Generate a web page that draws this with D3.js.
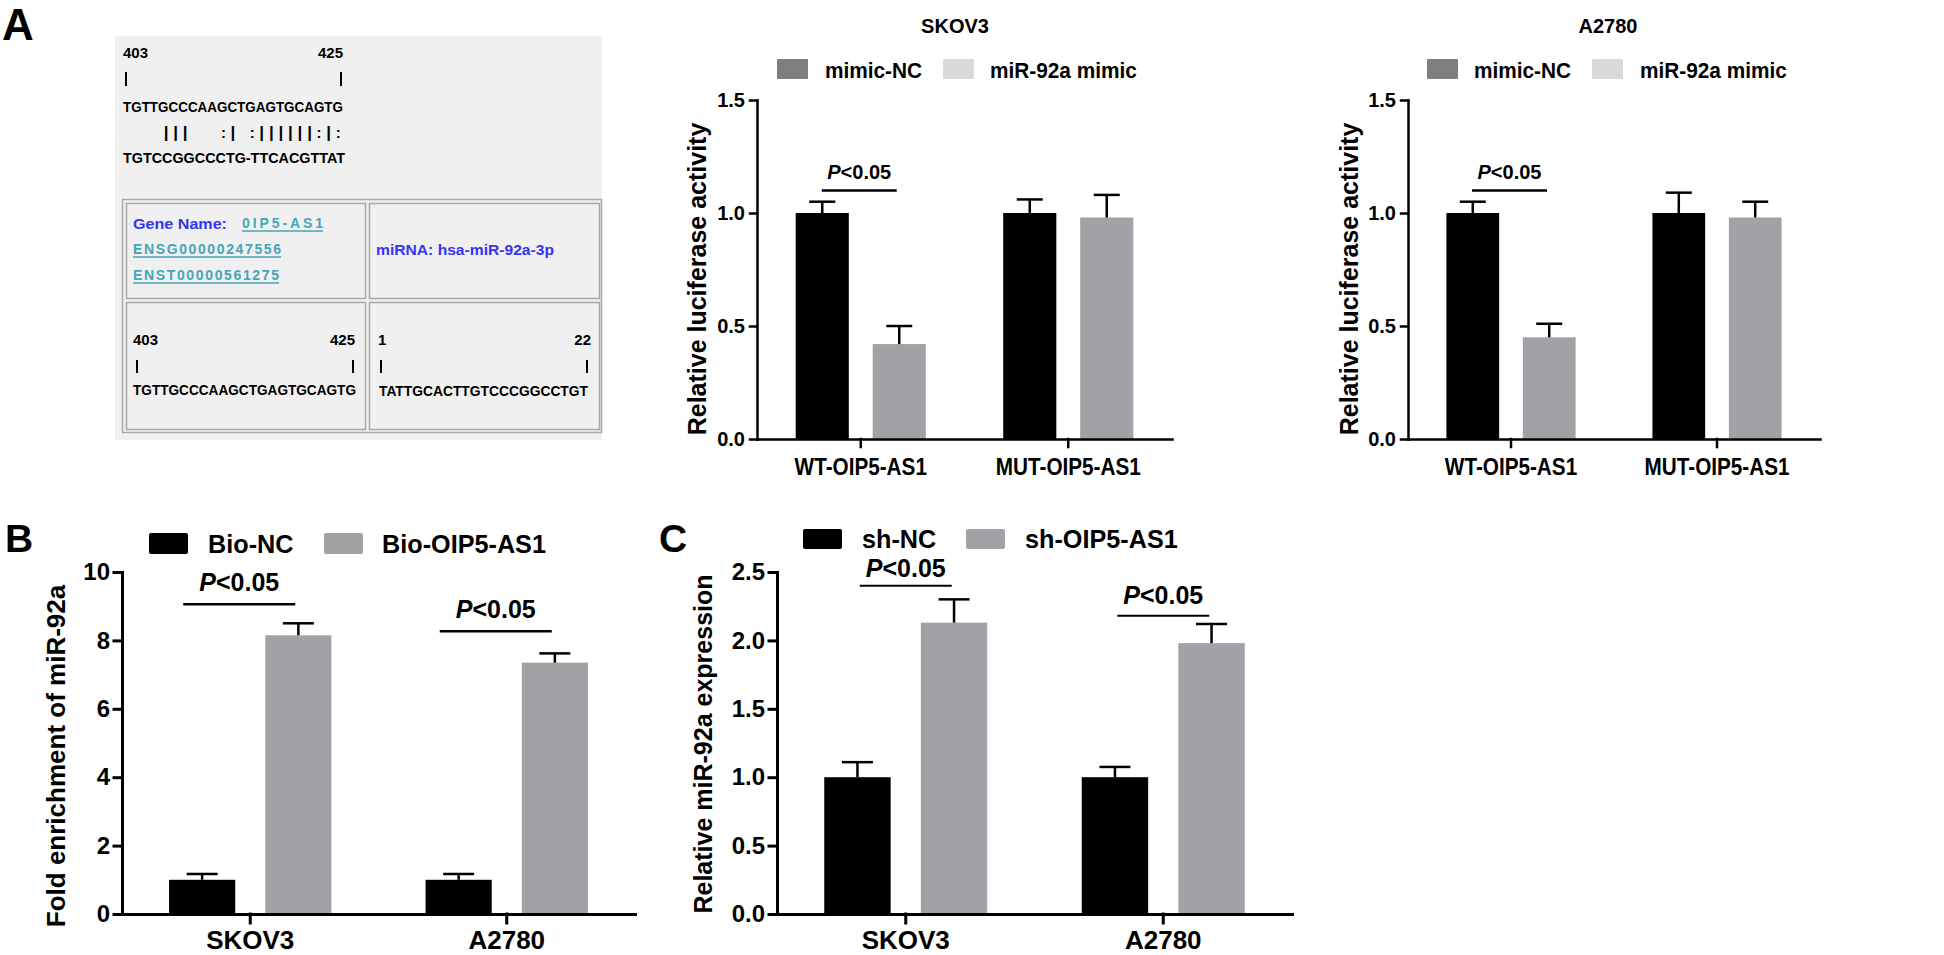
<!DOCTYPE html>
<html><head><meta charset="utf-8">
<script src="https://cdn.jsdelivr.net/npm/d3@7"></script>
<style>
body{margin:0;background:#fff}
text{font-family:"Liberation Sans",Arial,Helvetica,sans-serif;font-weight:bold;fill:#000}
</style>
</head><body>
<svg id="fig" width="1944" height="955"></svg>
<script>
// ---------------- DATA ----------------
// Panel A (left): predicted binding site
const siteStart = 403, siteEnd = 425, mirStart = 1, mirEnd = 22;
const seqTop = "TGTTGCCCAAGCTGAGTGCAGTG";
const seqMatch = "    |||   :| :||||||:|:";
const seqBottom = "TGTCCGGCCCTG-TTCACGTTAT";
const mirSeq = "TATTGCACTTGTCCCGGCCTGT";
const geneName = "0IP5-AS1", geneId = "ENSG00000247556", transcriptId = "ENST00000561275";
const mirName = "hsa-miR-92a-3p";

// Panel A luciferase
const lucCategories = ["WT-OIP5-AS1", "MUT-OIP5-AS1"];
const lucSeries = ["mimic-NC", "miR-92a mimic"];
const lucTicks = [0, 0.5, 1.0, 1.5];
const skov3MimicNC = [1.00, 1.00];
const skov3MimicNCErr = [0.05, 0.06];
const skov3Mimic = [0.42, 0.98];
const skov3MimicErr = [0.08, 0.10];
const a2780MimicNC = [1.00, 1.00];
const a2780MimicNCErr = [0.05, 0.09];
const a2780Mimic = [0.45, 0.98];
const a2780MimicErr = [0.06, 0.07];
const lucSigCats = ["WT-OIP5-AS1"];
const skov3LucSigLevels = [1.10];
const a2780LucSigLevels = [1.10];

// Panel B
const cellLines = ["SKOV3", "A2780"];
const bioSeries = ["Bio-NC", "Bio-OIP5-AS1"];
const bioTicks = [0, 2, 4, 6, 8, 10];
const bioNC = [1.0, 1.0];
const bioNCErr = [0.17, 0.17];
const bioOIP = [8.15, 7.35];
const bioOIPErr = [0.35, 0.27];
const bioSigLevels = [9.06, 8.27];

// Panel C
const shSeries = ["sh-NC", "sh-OIP5-AS1"];
const shTicks = [0, 0.5, 1.0, 1.5, 2.0, 2.5];
const shNC = [1.0, 1.0];
const shNCErr = [0.11, 0.075];
const shOIP = [2.13, 1.98];
const shOIPErr = [0.17, 0.14];
const shSigLevels = [2.40, 2.18];
const sigLabel = "P<0.05";

// ---------------- HELPERS ----------------
const svg = d3.select("#fig");

function condense(sel, k) {
  sel.each(function () {
    const w = this.getComputedTextLength();
    d3.select(this).attr("textLength", w * k).attr("lengthAdjust", "spacingAndGlyphs");
  });
}
function fitWidth(sel, w, adj) {
  sel.attr("textLength", w).attr("lengthAdjust", adj || "spacingAndGlyphs");
}
function pText(g, x, y, size, label) {
  const t = g.append("text").attr("x", x).attr("y", y).attr("text-anchor", "middle").attr("font-size", size);
  t.append("tspan").attr("font-style", "italic").text(label.slice(0, 1));
  t.append("tspan").text(label.slice(1));
  return t;
}

function barChart(o) {
  const g = svg.append("g");
  const x0 = d3.scaleBand().domain(o.categories).range([o.left, o.right]).padding(0);
  const half = x0.step() * o.groupFrac / 2;
  const x1 = d3.scaleBand().domain(o.series).range([-half, half]).paddingInner(o.innerPad);
  const y = d3.scaleLinear().domain([0, o.yMax]).range([o.bottom, o.top]);
  const cat = c => x0(c) + x0.bandwidth() / 2;

  o.series.forEach((s, si) => {
    const rows = o.categories.map((c, i) => ({ c, v: o.values[si][i], e: o.errors[si][i] }));
    const cx = d => cat(d.c) + x1(s) + x1.bandwidth() / 2;
    g.selectAll(null).data(rows).join("rect")
      .attr("x", d => cat(d.c) + x1(s)).attr("width", x1.bandwidth())
      .attr("y", d => y(d.v)).attr("height", d => y(0) - y(d.v))
      .attr("fill", o.barColors[si]);
    g.selectAll(null).data(rows).join("line")
      .attr("x1", cx).attr("x2", cx).attr("y1", d => y(d.v)).attr("y2", d => y(d.v + d.e))
      .attr("stroke", "#000").attr("stroke-width", o.errW);
    g.selectAll(null).data(rows).join("line")
      .attr("x1", d => cx(d) - o.capW / 2).attr("x2", d => cx(d) + o.capW / 2)
      .attr("y1", d => y(d.v + d.e)).attr("y2", d => y(d.v + d.e))
      .attr("stroke", "#000").attr("stroke-width", o.errW);
  });

  // axes
  const yAx = g.append("g").attr("transform", `translate(${o.left},0)`)
    .call(d3.axisLeft(y).tickValues(o.ticks).tickFormat(o.fmt).tickSize(o.yTick).tickSizeOuter(0).tickPadding(o.yPad));
  yAx.selectAll("path,line").attr("stroke", "#000").attr("stroke-width", o.axisW).attr("stroke-linecap", "square");
  yAx.selectAll("text").attr("font-size", o.tickFont).attr("fill", "#000");

  const xAx = g.append("g").attr("transform", `translate(0,${o.bottom})`)
    .call(d3.axisBottom(x0).tickSize(o.xTick).tickSizeOuter(0));
  xAx.selectAll("path,line").attr("stroke", "#000").attr("stroke-width", o.axisW).attr("stroke-linecap", "square");
  const xt = xAx.selectAll("text").attr("y", o.xLabelDy).attr("dy", null).attr("font-size", o.xFont).attr("fill", "#000");
  if (o.xK !== 1) condense(xt, o.xK);

  // y label
  g.append("text").attr("transform", `translate(${o.yLabelX},${o.yLabelY}) rotate(-90)`)
    .attr("text-anchor", "middle").attr("dy", "0.36em").attr("font-size", o.yLabelFont).text(o.yLabel);

  // title
  if (o.title) g.append("text").attr("x", o.titleX).attr("y", o.titleY).attr("text-anchor", "middle")
    .attr("font-size", o.titleFont).text(o.title);

  // legend
  o.series.forEach((s, si) => {
    g.append("rect").attr("x", o.legSwX[si]).attr("y", o.legY).attr("width", o.legW).attr("height", o.legH)
      .attr("rx", o.legRx).attr("fill", o.legendColors[si]);
    const t = g.append("text").attr("x", o.legTxX[si]).attr("y", o.legTxY).attr("font-size", o.legFont).text(s);
    if (o.legK !== 1) condense(t, o.legK);
  });

  // significance
  o.sigCats.forEach((c, i) => {
    const ly = y(o.sigLevels[i]);
    const xa = cat(c) + o.sigDx[0], xb = cat(c) + o.sigDx[1];
    g.append("line").attr("x1", xa).attr("x2", xb).attr("y1", ly).attr("y2", ly)
      .attr("stroke", "#000").attr("stroke-width", o.sigW);
    pText(g, (xa + xb) / 2, ly - o.sigGap[i], o.sigFont, o.sigLabel);
  });
}

// ---------------- PANEL LETTERS ----------------
svg.append("text").attr("x", 2).attr("y", 40).attr("font-size", 44).text("A");
svg.append("text").attr("x", 5).attr("y", 552).attr("font-size", 39).text("B");
svg.append("text").attr("x", 659).attr("y", 552).attr("font-size", 39).text("C");

// ---------------- PANEL A: binding site image ----------------
(function () {
  const g = svg.append("g");
  g.append("rect").attr("x", 115).attr("y", 36).attr("width", 487).attr("height", 404).attr("fill", "#f0f0f0");
  const seqW = 220, x0 = 123, cw = seqW / seqTop.length;
  g.append("text").attr("x", x0).attr("y", 58).attr("font-size", 15).text(siteStart);
  g.append("text").attr("x", 343).attr("y", 58).attr("text-anchor", "end").attr("font-size", 15).text(siteEnd);
  [126, 341].forEach(x => g.append("line").attr("x1", x).attr("x2", x).attr("y1", 72).attr("y2", 86).attr("stroke", "#000").attr("stroke-width", 2));
  fitWidth(g.append("text").attr("x", x0).attr("y", 112).attr("font-size", 15).text(seqTop), seqW);
  seqMatch.split("").forEach((ch, i) => {
    if (ch === " ") return;
    g.append("text").attr("x", x0 + cw * (i + 0.5)).attr("y", 138).attr("text-anchor", "middle")
      .attr("font-size", ch === "|" ? 17 : 15).text(ch);
  });
  fitWidth(g.append("text").attr("x", x0).attr("y", 163).attr("font-size", 15).text(seqBottom), 222);

  // table
  g.append("rect").attr("x", 122.5).attr("y", 199.5).attr("width", 479).attr("height", 233).attr("fill", "none")
    .attr("stroke", "#a8a8a8").attr("stroke-width", 1.5);
  const cells = [[126, 203, 239, 95], [369, 203, 230, 95], [126, 302, 239, 127], [369, 302, 230, 127]];
  cells.forEach(c => g.append("rect").attr("x", c[0] + 0.5).attr("y", c[1] + 0.5).attr("width", c[2]).attr("height", c[3])
    .attr("fill", "#f0f0f0").attr("stroke", "#a8a8a8").attr("stroke-width", 1.5));

  const blue = "#3434f2", teal = "#45a6b6";
  fitWidth(g.append("text").attr("x", 133).attr("y", 229).attr("font-size", 15).style("fill", blue).text("Gene  Name:"), 94);
  const links = [[geneName, 242, 228, 81], [geneId, 133, 254, 148], [transcriptId, 133, 280, 146]];
  links.forEach(l => {
    fitWidth(g.append("text").attr("x", l[1]).attr("y", l[2]).attr("font-size", 14).style("fill", teal).text(l[0]), l[3], "spacing");
    g.append("line").attr("x1", l[1]).attr("x2", l[1] + l[3]).attr("y1", l[2] + 3).attr("y2", l[2] + 3)
      .attr("stroke", teal).attr("stroke-width", 1.5);
  });
  fitWidth(g.append("text").attr("x", 376).attr("y", 255).attr("font-size", 15).style("fill", blue).text("miRNA:  " + mirName), 178);

  // bottom row
  g.append("text").attr("x", 133).attr("y", 345).attr("font-size", 15).text(siteStart);
  g.append("text").attr("x", 355).attr("y", 345).attr("text-anchor", "end").attr("font-size", 15).text(siteEnd);
  g.append("text").attr("x", 378).attr("y", 345).attr("font-size", 15).text(mirStart);
  g.append("text").attr("x", 591).attr("y", 345).attr("text-anchor", "end").attr("font-size", 15).text(mirEnd);
  [137, 353, 381, 587].forEach(x => g.append("line").attr("x1", x).attr("x2", x).attr("y1", 360).attr("y2", 373).attr("stroke", "#000").attr("stroke-width", 2));
  fitWidth(g.append("text").attr("x", 133).attr("y", 395).attr("font-size", 15).text(seqTop), 223);
  fitWidth(g.append("text").attr("x", 379).attr("y", 396).attr("font-size", 15).text(mirSeq), 209);
})();

// ---------------- CHARTS ----------------
const lucStyle = {
  top: 100, bottom: 439, yMax: 1.5, fmt: d3.format(".1f"), groupFrac: 0.627, innerPad: 0.31,
  barColors: ["#000000", "#a2a1a6"], legendColors: ["#7f7f7f", "#d9d9d9"],
  errW: 2.5, capW: 26, axisW: 2.5, yTick: 7, yPad: 5, xTick: 8, tickFont: 20,
  xLabelDy: 36, xFont: 23, xK: 0.9, yLabelFont: 25, yLabelY: 279, titleY: 33, titleFont: 20,
  legY: 59, legW: 31, legH: 20, legRx: 1, legTxY: 78, legFont: 22, legK: 0.945,
  sigDx: [-39, 36], sigW: 2.5, sigGap: [11], sigFont: 20, sigLabel: sigLabel,
  categories: lucCategories, series: lucSeries, ticks: lucTicks, sigCats: lucSigCats,
  yLabel: "Relative luciferase activity"
};
barChart(Object.assign({}, lucStyle, {
  left: 757, right: 1172, values: [skov3MimicNC, skov3Mimic], errors: [skov3MimicNCErr, skov3MimicErr],
  sigLevels: skov3LucSigLevels, title: "SKOV3", titleX: 955, yLabelX: 697,
  legSwX: [777, 943], legTxX: [825, 990]
}));
barChart(Object.assign({}, lucStyle, {
  left: 1408, right: 1820, values: [a2780MimicNC, a2780Mimic], errors: [a2780MimicNCErr, a2780MimicErr],
  sigLevels: a2780LucSigLevels, title: "A2780", titleX: 1608, yLabelX: 1349,
  legSwX: [1427, 1592], legTxX: [1474, 1640]
}));

const lowerStyle = {
  top: 572, bottom: 914, groupFrac: 0.633, innerPad: 0.3125,
  barColors: ["#000000", "#a2a1a6"], legendColors: ["#000000", "#a2a1a6"],
  errW: 2.5, capW: 31, axisW: 3, yTick: 8, yPad: 4, xTick: 9, tickFont: 24,
  xLabelDy: 35, xFont: 26, xK: 1, yLabelFont: 25,
  legY: 533, legW: 39, legH: 21, legRx: 2, legTxY: 553, legFont: 26, legK: 0.97,
  sigW: 2.5, sigGap: [13, 13], sigFont: 25, sigLabel: sigLabel,
  categories: cellLines, sigCats: cellLines
};
barChart(Object.assign({}, lowerStyle, {
  left: 122, right: 635, yMax: 10, fmt: d3.format("d"), ticks: bioTicks, series: bioSeries,
  values: [bioNC, bioOIP], errors: [bioNCErr, bioOIPErr], sigLevels: bioSigLevels, sigDx: [-67, 45],
  yLabel: "Fold enrichment of miR-92a", yLabelX: 56, yLabelY: 756, yLabelFont: 26,
  legSwX: [149, 324], legTxX: [208, 382]
}));
barChart(Object.assign({}, lowerStyle, {
  left: 777, right: 1292, yMax: 2.5, fmt: d3.format(".1f"), ticks: shTicks, series: shSeries,
  values: [shNC, shOIP], errors: [shNCErr, shOIPErr], sigLevels: shSigLevels, sigDx: [-46, 46], sigW: 2,
  sigGap: [9, 12],
  yLabel: "Relative miR-92a expression", yLabelX: 703, yLabelY: 744,
  legY: 529, legTxY: 548, legH: 20, legSwX: [803, 966], legTxX: [862, 1025]
}));
</script>
</body></html>
